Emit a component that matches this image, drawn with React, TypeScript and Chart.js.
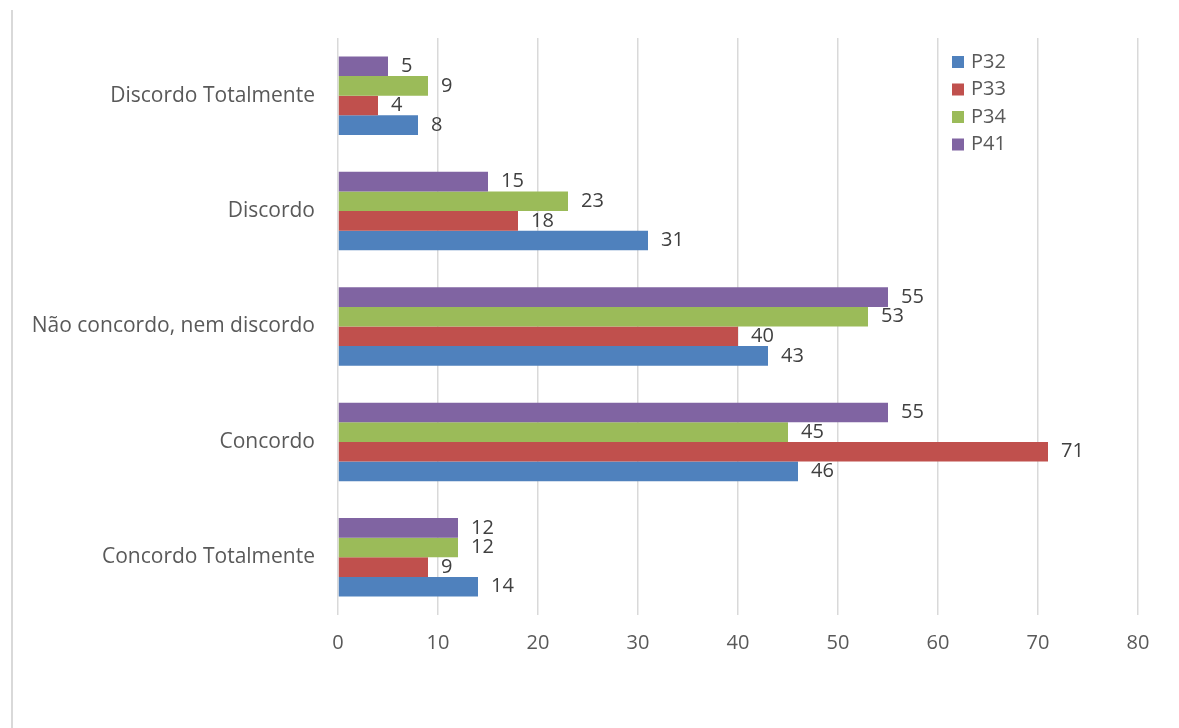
import React, { useEffect, useRef } from "react";
import { Chart, registerables } from "chart.js";

Chart.register(...registerables);

const categories = [
  "Discordo Totalmente",
  "Discordo",
  "Não concordo, nem discordo",
  "Concordo",
  "Concordo Totalmente",
];
const p32 = [8, 31, 43, 46, 14];
const p33 = [4, 18, 40, 71, 9];
const p34 = [9, 23, 53, 45, 12];
const p41 = [5, 15, 55, 55, 12];
const seriesNames = ["P32", "P33", "P34", "P41"];
const seriesColors = ["#4F81BD", "#C0504D", "#9BBB59", "#8064A2"];
const xTicks = [0, 10, 20, 30, 40, 50, 60, 70, 80];

const FONT = "'Open Sans', 'Noto Sans', sans-serif";
const TEXT = "#595959";
const FS = 20;
const FS_CAT = 21;

const decorPlugin = {
  id: "decor",
  beforeDraw(chart: any) {
    const ctx = chart.ctx;
    ctx.save();
    ctx.fillStyle = "#ffffff";
    ctx.fillRect(0, 0, chart.width, chart.height);
    ctx.fillStyle = "#d9d9d9";
    ctx.fillRect(11, 10, 2, chart.height - 10);
    ctx.restore();
  },
  afterDatasetsDraw(chart: any) {
    const ctx = chart.ctx;
    ctx.save();
    ctx.font = `${FS}px ${FONT}`;
    ctx.fillStyle = "#404040";
    ctx.textAlign = "left";
    ctx.textBaseline = "middle";
    chart.data.datasets.forEach((ds: any, di: number) => {
      const meta = chart.getDatasetMeta(di);
      meta.data.forEach((el: any, i: number) => {
        ctx.fillText(String(ds.data[i]), el.x + 13, el.y);
      });
    });
    // legend
    const area = chart.chartArea;
    const lx = area.left + 614;
    const ly = area.top + 24;
    seriesNames.forEach((name, i) => {
      const cy = ly + i * 27.5;
      ctx.fillStyle = seriesColors[i];
      ctx.fillRect(lx, cy - 6, 12, 12);
      ctx.fillStyle = TEXT;
      ctx.fillText(name, lx + 19, cy);
    });
    ctx.restore();
  },
};

export default function App() {
  const ref = useRef<HTMLCanvasElement>(null);
  useEffect(() => {
    if (!ref.current) return;
    const order = [3, 2, 1, 0];
    const values = [p32, p33, p34, p41];
    const chart = new Chart(ref.current, {
      type: "bar",
      data: {
        labels: categories,
        datasets: order.map((k) => ({
          label: seriesNames[k],
          data: values[k],
          backgroundColor: seriesColors[k],
          borderWidth: 0,
          categoryPercentage: 0.68,
          barPercentage: 1,
        })),
      },
      options: {
        indexAxis: "y",
        animation: false,
        responsive: false,
        maintainAspectRatio: false,
        layout: { padding: { top: 38, right: 41, left: 0, bottom: 0 } },
        plugins: {
          legend: { display: false },
          tooltip: { enabled: false },
        },
        scales: {
          x: {
            min: 0,
            max: 80,
            afterBuildTicks: (scale: any) => {
              scale.ticks = xTicks.map((v) => ({ value: v }));
            },
            afterFit: (scale: any) => {
              scale.height = 113;
            },
            grid: {
              color: "#d9d9d9",
              lineWidth: 1.5,
              drawTicks: false,
            },
            border: { display: false },
            ticks: {
              padding: 16,
              color: TEXT,
              font: { family: FONT, size: FS },
            },
          },
          y: {
            afterFit: (scale: any) => {
              scale.width = 338;
            },
            grid: { display: false, drawTicks: false },
            border: { display: false },
            ticks: {
              padding: 23,
              color: TEXT,
              font: { family: FONT, size: FS_CAT },
            },
          },
        },
      },
      plugins: [decorPlugin],
    } as any);
    return () => chart.destroy();
  }, []);
  return (
    <div style={{ position: "fixed", left: 0, top: 0, width: 1179, height: 728, background: "#fff" }}>
      <canvas ref={ref} width={1179} height={728} style={{ display: "block", width: 1179, height: 728 }} />
    </div>
  );
}
